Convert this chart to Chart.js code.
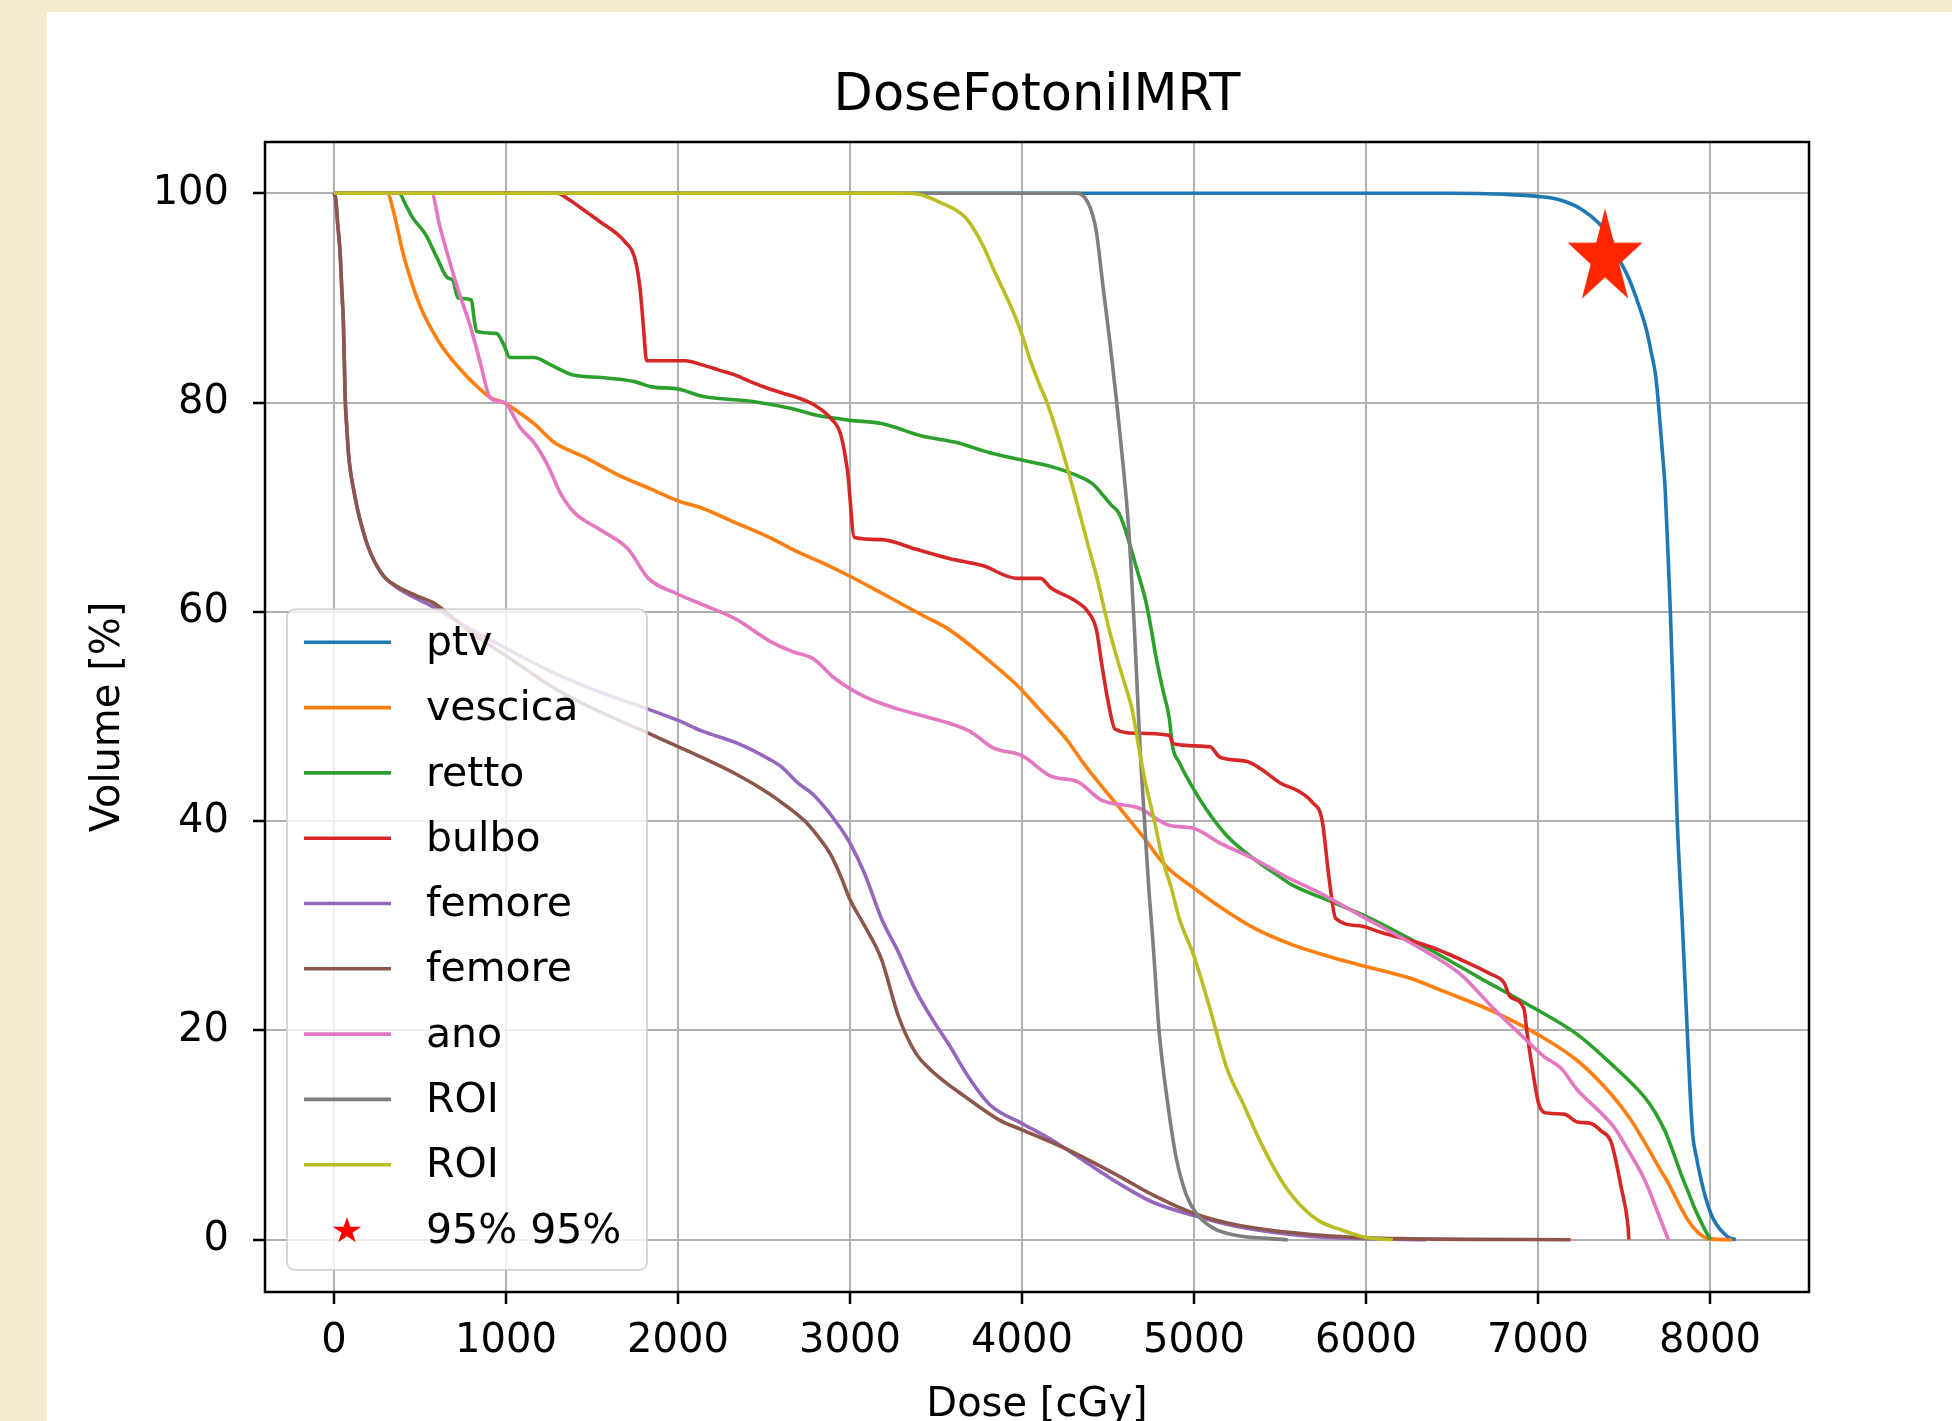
<!DOCTYPE html>
<html>
<head>
<meta charset="utf-8">
<title>DoseFotoniIMRT</title>
<script src="https://cdn.jsdelivr.net/npm/chart.js@4.4.1/dist/chart.umd.min.js"></script>
<style>
  html, body { margin: 0; padding: 0; }
  body { width: 1952px; height: 1421px; background: #f5ebce; position: relative; overflow: hidden; }
  #card { position: absolute; left: 47px; top: 12px; right: 0; bottom: 0; background: #fff; }
  #dvh { position: absolute; left: 0; top: 0; }
</style>
</head>
<body>
<div id="card"></div>
<canvas id="dvh" width="1952" height="1421"></canvas>
<script>
// tick values
const xTicks = [0, 1000, 2000, 3000, 4000, 5000, 6000, 7000, 8000];
const yTicks = [0, 20, 40, 60, 80, 100];

// DVH curves: [dose cGy, volume %]
const ptv = [[0,100],[6500,100],[6800,99.9],[7000,99.7],[7120,99.4],[7250,98.5],[7350,97.2],[7420,95.8],[7470,93.8],[7530,91.8],[7580,89.6],[7630,87],[7660,84.7],[7685,82.5],[7700,80],[7720,76],[7740,71.6],[7755,66],[7770,60],[7790,50],[7810,40],[7840,30],[7868,20],[7885,14],[7900,10],[7920,8],[7945,6],[7975,4],[8005,2.5],[8040,1.4],[8075,0.7],[8110,0.2],[8150,0]];

const vescica = [[0,100],[310,100],[350,98],[398,94.5],[436,92.3],[476,90.3],[520,88.5],[574,86.8],[630,85.3],[691,84.0],[750,82.9],[809,81.9],[907,80.5],[1000,79.9],[1080,79],[1162,78.0],[1279,76.2],[1455,74.8],[1651,73.1],[1847,71.7],[2000,70.6],[2141,69.9],[2337,68.5],[2533,67.1],[2700,65.7],[2850,64.6],[3000,63.4],[3183,61.8],[3419,59.7],[3577,58.3],[3774,55.8],[3970,53.0],[4100,50.7],[4250,48],[4364,45.4],[4470,43.2],[4561,41.4],[4640,39.8],[4719,38.2],[4790,36.6],[4856,35.4],[5000,33.6],[5152,31.8],[5348,29.8],[5570,28.2],[5800,27.0],[6000,26.1],[6254,25.0],[6449,23.75],[6742,21.8],[7000,19.6],[7230,17.1],[7426,13.9],[7530,11.7],[7621,9.3],[7700,7.0],[7758,5.4],[7820,3.4],[7875,1.8],[7930,0.7],[7992,0.1],[8129,0]];

const retto = [[0,100],[378,100],[420,98.8],[456,97.7],[535,96.0],[600,93.8],[662,91.9],[691,91.7],[721,90.0],[799,89.8],[815,88],[829,86.8],[946,86.6],[985,85.6],[1024,84.3],[1162,84.3],[1260,83.6],[1397,82.6],[1553,82.4],[1749,82.0],[1847,81.5],[2000,81.3],[2141,80.6],[2435,80.1],[2666,79.4],[2800,78.8],[3000,78.3],[3183,78.0],[3419,76.8],[3616,76.2],[3813,75.2],[4000,74.5],[4167,73.9],[4364,72.7],[4420,72.1],[4463,71.3],[4520,70.2],[4561,69.5],[4600,67.9],[4640,65.7],[4680,63.4],[4719,61.1],[4750,58.5],[4778,55.8],[4820,52.5],[4856,49.9],[4876,47.1],[4915,45.6],[4955,44.3],[5073,41.1],[5191,38.6],[5348,36.4],[5506,34.6],[5570,33.9],[5800,32.3],[6000,30.9],[6352,27.9],[6664,25.0],[6938,22.5],[7230,19.6],[7426,16.8],[7621,13.6],[7680,12.2],[7738,10.4],[7790,8.2],[7836,6.1],[7880,4.3],[7914,2.9],[7960,1.3],[8002,0]];

const bulbo = [[0,100],[1299,100],[1357,99.5],[1436,98.6],[1495,97.9],[1553,97.2],[1632,96.3],[1690,95.4],[1749,93.8],[1779,91.0],[1798,87.5],[1818,84.0],[2043,84.0],[2141,83.6],[2239,83.1],[2337,82.6],[2435,81.9],[2533,81.3],[2631,80.8],[2691,80.5],[2789,79.8],[2888,78.5],[2947,76.9],[2986,73.4],[3026,67.1],[3183,66.9],[3380,66.0],[3577,65.1],[3774,64.4],[3970,63.2],[4108,63.2],[4167,62.3],[4305,61.1],[4384,60.0],[4433,58.3],[4463,55.1],[4500,51.5],[4541,48.8],[4659,48.4],[4856,48.2],[4880,47.4],[5093,47.1],[5152,46.1],[5309,45.7],[5388,45.0],[5506,43.6],[5604,42.9],[5688,41.8],[5746,40.0],[5785,34.6],[5824,30.7],[5961,30.0],[6098,29.3],[6254,28.6],[6391,27.9],[6449,27.5],[6547,26.8],[6723,25.4],[6801,24.6],[6840,23.2],[6918,22.1],[6938,19.6],[6967,16.4],[7006,12.9],[7055,12.1],[7152,12.0],[7230,11.25],[7309,11.1],[7367,10.4],[7426,9.3],[7484,5.0],[7523,1.4],[7529,0]];

const femoreA = [[0,100],[10,99.5],[22,97],[35,94.5],[45,91],[55,87.5],[65,80.5],[75,77.5],[84,75.2],[98,73.2],[114,71.7],[137,69.8],[163,68.1],[190,66.6],[221,65.3],[260,64.1],[300,63.2],[360,62.4],[417,61.8],[500,61.1],[574,60.5],[800,58.3],[1000,56.5],[1300,54],[1600,52],[1827,50.7],[2004,49.6],[2141,48.6],[2337,47.5],[2533,45.9],[2600,45.2],[2700,43.6],[2789,42.5],[2947,39.3],[3000,37.9],[3085,35.0],[3183,30.7],[3281,27.5],[3380,23.9],[3478,21.1],[3577,18.6],[3695,15.4],[3813,12.9],[4000,11.1],[4167,9.6],[4364,7.5],[4561,5.4],[4758,3.6],[5000,2.3],[5250,1.25],[5679,0.3],[6000,0.1],[6350,0]];

const femoreB = [[0,100],[10,99.5],[22,97],[35,94.5],[45,91],[55,87.5],[65,80.5],[75,77.5],[84,75.2],[98,73.2],[114,71.7],[137,69.8],[163,68.1],[190,66.6],[221,65.3],[260,64.1],[300,63.2],[360,62.5],[417,62],[500,61.4],[574,60.9],[800,58],[1000,55.8],[1300,52.5],[1514,50.7],[1827,48.4],[2043,46.8],[2337,44.5],[2533,42.6],[2600,41.8],[2666,41.0],[2750,39.8],[2830,38.2],[2888,36.8],[2950,34.6],[3000,32.5],[3085,30.0],[3183,26.8],[3281,21.4],[3380,17.9],[3478,16.1],[3675,13.6],[3872,11.4],[4000,10.5],[4266,8.6],[4561,6.1],[4758,4.3],[5000,2.5],[5250,1.4],[5679,0.5],[6200,0.1],[7190,0]];

const ano = [[0,100],[568,100],[613,97.0],[672,93.5],[731,90.3],[789,87.5],[848,84.0],[907,80.5],[966,80.1],[1000,79.9],[1083,77.6],[1162,76.2],[1240,74.1],[1318,71.3],[1397,69.5],[1553,67.8],[1710,66.0],[1828,63.2],[1984,61.8],[2141,60.7],[2337,59.3],[2533,57.2],[2666,56.2],[2789,55.5],[2907,53.7],[3085,51.9],[3281,50.7],[3439,50.0],[3695,48.6],[3833,47.0],[4000,46.25],[4167,44.3],[4325,43.75],[4463,42.0],[4679,41.25],[4856,39.6],[5000,39.3],[5152,37.9],[5348,36.4],[5545,34.6],[5700,33.4],[6000,30.7],[6352,27.5],[6547,25.4],[6742,22.1],[6918,19.3],[7035,17.5],[7133,16.4],[7230,14.3],[7367,12.1],[7445,10.7],[7523,8.6],[7621,5.7],[7699,2.5],[7758,0]];

const roiGray = [[0,100],[4325,100],[4360,99.7],[4384,99.1],[4410,98],[4433,96.3],[4472,91.0],[4512,85.7],[4551,80.0],[4581,75.2],[4620,68.1],[4640,62.5],[4655,58],[4672,52],[4690,46],[4705,42],[4720,38],[4740,33],[4758,29.3],[4778,24.5],[4797,20.0],[4846,13.2],[4896,7.9],[4955,4.3],[5014,2.5],[5112,1.1],[5250,0.4],[5447,0.1],[5545,0]];

const roiOlive = [[0,100],[3321,100],[3400,99.9],[3459,99.6],[3540,99.0],[3616,98.4],[3670,97.7],[3715,96.7],[3780,94.8],[3833,92.8],[3890,90.8],[3951,88.6],[4000,86.5],[4049,84.0],[4100,81.8],[4148,79.9],[4226,75.9],[4305,71.3],[4384,66.4],[4440,63],[4482,60.0],[4520,57.5],[4561,55.1],[4600,53.0],[4640,50.7],[4680,47],[4719,43.6],[4770,40],[4817,36.4],[4870,33.5],[4915,30.7],[5000,27.1],[5093,22.1],[5191,16.4],[5289,12.9],[5388,9.3],[5506,5.7],[5570,4.2],[5624,3.2],[5727,1.8],[5863,0.9],[6000,0.2],[6156,0]];

const seriesLabels = ['ptv', 'vescica', 'retto', 'bulbo', 'femore', 'femore', 'ano', 'ROI', 'ROI'];
const seriesColors = ['#1f77b4', '#ff7f0e', '#2ca02c', '#d62728', '#9467bd', '#8c564b', '#e377c2', '#7f7f7f', '#bcbd22'];
const seriesData = [ptv, vescica, retto, bulbo, femoreA, femoreB, ano, roiGray, roiOlive];

// 95% / 95% marker
const markerLabel = '95% 95%';
const markerDose = [7390];
const markerVol = [93.8];

const FONT = 'DejaVu Sans';
const LINE_W = 3.6;
Chart.defaults.font.family = FONT;
Chart.defaults.color = '#000';

// 5-point star like matplotlib's '*'
function starPath(ctx, cx, cy, rx, ry) {
    ctx.beginPath();
    for (let i = 0; i < 10; i++) {
        const r = i % 2 ? 0.381966 : 1;
        const a = Math.PI / 2 + i * Math.PI / 5;
        const px = cx + Math.cos(a) * r * rx;
        const py = cy - Math.sin(a) * r * ry;
        if (i === 0) ctx.moveTo(px, py); else ctx.lineTo(px, py);
    }
    ctx.closePath();
}

const bigStar = document.createElement('canvas');
bigStar.width = 82;
bigStar.height = 104;
(function () {
    const c = bigStar.getContext('2d');
    c.fillStyle = '#ff2600';
    starPath(c, 41, 52, 39.4, 50.1);
    c.fill();
})();

const datasets = seriesData.map((pts, i) => ({
    label: seriesLabels[i],
    data: pts.map(p => ({x: p[0], y: p[1]})),
    borderColor: seriesColors[i],
    backgroundColor: seriesColors[i],
    borderWidth: LINE_W,
    showLine: true,
    pointRadius: 0,
    cubicInterpolationMode: 'monotone',
    order: 20 - i
}));

datasets.push({
    label: markerLabel,
    data: markerDose.map((d, i) => ({x: d, y: markerVol[i]})),
    pointStyle: bigStar,
    pointRadius: 10,
    showLine: false,
    order: 0
});

// black box around the axes + matplotlib style legend in the lower left
const framePlugin = {
    id: 'frame',
    afterDatasetsDraw(chart) {
        const {ctx, chartArea: a} = chart;
        ctx.save();
        ctx.strokeStyle = '#000';
        ctx.lineWidth = 2.5;
        ctx.strokeRect(a.left, a.top, a.right - a.left, a.bottom - a.top);
        ctx.restore();
    },
    afterDraw(chart) {
        const {ctx, chartArea: a} = chart;
        const rows = chart.data.datasets.length;
        const rowH = 65.3;
        const w = 360, h = 33 + (rows - 1) * rowH + 40;
        const x0 = a.left + 22, y0 = a.bottom - 22 - h;
        ctx.save();
        ctx.beginPath();
        ctx.roundRect(x0, y0, w, h, 8);
        ctx.fillStyle = 'rgba(255,255,255,0.8)';
        ctx.fill();
        ctx.strokeStyle = 'rgba(204,204,204,0.8)';
        ctx.lineWidth = 2;
        ctx.stroke();
        ctx.font = '41px "' + FONT + '"';
        ctx.textBaseline = 'middle';
        ctx.textAlign = 'left';
        chart.data.datasets.forEach((ds, i) => {
            const y = y0 + 33 + i * rowH;
            if (ds.showLine) {
                ctx.strokeStyle = ds.borderColor;
                ctx.lineWidth = LINE_W;
                ctx.beginPath();
                ctx.moveTo(x0 + 17, y);
                ctx.lineTo(x0 + 104, y);
                ctx.stroke();
            } else {
                ctx.fillStyle = '#ff0000';
                starPath(ctx, x0 + 60, y + 1, 15, 14);
                ctx.fill();
            }
            ctx.fillStyle = '#000';
            ctx.fillText(ds.label, x0 + 139, y + 2);
        });
        ctx.restore();
    }
};

new Chart(document.getElementById('dvh'), {
    type: 'scatter',
    data: {datasets: datasets},
    plugins: [framePlugin],
    options: {
        responsive: false,
        animation: false,
        devicePixelRatio: 1,
        layout: {padding: {left: 0, right: 143, top: 0, bottom: 0}},
        plugins: {
            legend: {display: false},
            tooltip: {enabled: false},
            title: {
                display: true,
                text: 'DoseFotoniIMRT',
                fullSize: false,
                color: '#000',
                font: {size: 51, weight: 'normal', family: FONT},
                padding: {top: 66, bottom: 14.8}
            }
        },
        scales: {
            x: {
                type: 'linear',
                min: -401,
                max: 8576,
                afterBuildTicks: s => { s.ticks = xTicks.map(v => ({value: v})); },
                afterFit: s => { s.height = 129; },
                grid: {color: '#b0b0b0', lineWidth: 2, tickLength: 12, tickColor: '#000', tickWidth: 2.5},
                border: {display: false},
                ticks: {font: {size: 40}, padding: 14, maxRotation: 0, autoSkip: false, callback: v => String(v)},
                title: {display: true, text: 'Dose [cGy]', font: {size: 40}, padding: {top: 0, bottom: -9}}
            },
            y: {
                type: 'linear',
                min: -5,
                max: 104.9,
                afterBuildTicks: s => { s.ticks = yTicks.map(v => ({value: v})); },
                afterFit: s => { s.width = 265; },
                grid: {color: '#b0b0b0', lineWidth: 2, tickLength: 12, tickColor: '#000', tickWidth: 2.5},
                border: {display: false},
                ticks: {font: {size: 40}, padding: 24, autoSkip: false, callback: v => String(v)},
                title: {display: true, text: 'Volume [%]', font: {size: 40}, padding: {top: 85, bottom: 0}}
            }
        }
    }
});
</script>
</body>
</html>
